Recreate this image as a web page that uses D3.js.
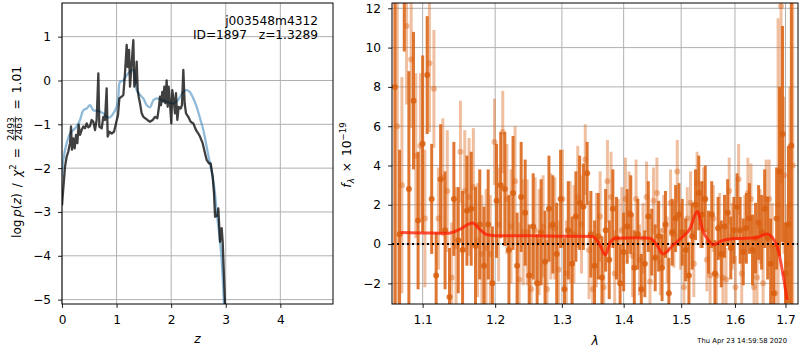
<!DOCTYPE html>
<html><head><meta charset="utf-8">
<script src="https://cdn.jsdelivr.net/npm/d3@7"></script>
<style>body{margin:0;background:#fff} svg text{font-family:"DejaVu Sans",sans-serif}</style>
</head><body><svg id="c" width="800" height="350"></svg>
<script>
// ---------- Left panel data: log p(z) and prior/template curve ----------
const zPz = [0,0.012,0.055,0.085,0.116,0.147,0.165,0.183,0.207,0.232,0.257,0.281,0.305,0.330,0.360,0.391,0.421,0.452,0.482,0.513,0.544,0.574,0.605,0.635,0.666,0.684,0.727,0.757,0.788,0.818,0.837,0.867,0.910,0.953,0.989,1.026,1.051,1.093,1.124,1.154,1.185,1.203,1.228,1.246,1.276,1.307,1.325,1.350,1.368,1.387,1.405,1.429,1.460,1.490,1.521,1.564,1.612,1.661,1.704,1.747,1.777,1.795,1.814,1.838,1.856,1.875,1.893,1.917,1.936,1.954,1.978,2.003,2.021,2.046,2.070,2.088,2.113,2.137,2.174,2.198,2.223,2.247,2.272,2.314,2.357,2.406,2.455,2.498,2.528,2.577,2.620,2.650,2.693,2.724,2.761,2.785,2.804,2.846,2.864,2.895,2.925,2.944,2.986,3.01];
const logPz = [-2.85,-2.65,-1.97,-1.74,-1.62,-1.43,-1.05,-1.58,-1.32,-1.55,-1.24,-1.43,-1.01,-1.24,-1.13,-1.05,-1.09,-0.98,-1.07,-1.04,-0.90,-0.94,-1.13,-0.90,0.16,-1.05,-1.09,-0.83,-0.90,-0.18,-1.28,-1.17,-1.21,-1.17,-0.98,-0.79,-0.41,-0.37,-0.33,0.16,0.81,0.31,0.70,-0.14,0.39,0.92,-0.14,0.0,0.43,-0.22,-0.37,-0.52,-0.75,-0.83,-0.86,-0.90,-0.94,-0.90,-0.83,-0.86,-0.60,-0.37,-0.56,-0.26,-0.48,-0.14,-0.52,0.0,-0.60,-0.14,-0.52,-0.98,-0.22,-0.45,-0.75,-0.29,-0.90,-0.60,-0.64,-0.56,0.24,-0.52,-0.75,-0.83,-0.94,-0.98,-1.13,-1.21,-1.28,-1.43,-1.66,-1.81,-1.89,-1.89,-2.20,-2.57,-3.11,-3.08,-2.92,-3.68,-3.37,-3.68,-5.08,-5.6];
const zTpl = [0,0.024,0.085,0.147,0.207,0.269,0.330,0.391,0.452,0.513,0.574,0.635,0.696,0.757,0.818,0.879,0.940,1.001,1.032,1.063,1.124,1.185,1.246,1.307,1.338,1.368,1.429,1.490,1.551,1.612,1.673,1.734,1.795,1.856,1.917,1.978,2.040,2.100,2.160,2.220,2.280,2.340,2.406,2.467,2.528,2.589,2.650,2.710,2.760,2.800,2.834,2.880,2.920,2.970,3.0];
const logTpl = [-2.2,-1.81,-1.43,-1.21,-1.13,-1.05,-0.90,-0.68,-0.64,-0.56,-0.68,-0.69,-0.71,-0.75,-0.83,-0.84,-0.75,-0.60,-0.37,-0.03,0.0,0.12,0.20,0.24,0.09,-0.22,-0.33,-0.41,-0.56,-0.61,-0.45,-0.41,-0.43,-0.46,-0.48,-0.51,-0.52,-0.48,-0.38,-0.26,-0.22,-0.26,-0.41,-0.60,-0.86,-1.13,-1.51,-1.89,-2.20,-2.55,-3.0,-3.5,-4.0,-5.1,-5.6];
const zTicks = [0,1,2,3,4];
const lpTicks = [-5,-4,-3,-2,-1,0,1];

// ---------- Right panel data: spectrum (two grism orientations) + model ----------
const lamA = [1.064,1.070,1.076,1.082,1.088,1.094,1.100,1.106,1.112,1.118,
1.124,1.130,1.136,1.142,1.148,1.154,1.160,1.166,1.172,1.178,
1.184,1.190,1.196,1.202,1.208,1.214,1.220,1.226,1.232,1.238,
1.244,1.250,1.256,1.262,1.268,1.274,1.280,1.286,1.292,1.298,
1.304,1.310,1.316,1.322,1.328,1.334,1.340,1.346,1.352,1.358,
1.364,1.370,1.376,1.382,1.388,1.394,1.400,1.406,1.412,1.418,
1.424,1.430,1.436,1.442,1.448,1.454,1.460,1.466,1.472,1.478,
1.484,1.490,1.496,1.502,1.508,1.514,1.520,1.526,1.532,1.538,
1.544,1.550,1.556,1.562,1.568,1.574,1.580,1.586,1.592,1.598,
1.604,1.610,1.616,1.622,1.628,1.634,1.640,1.646,1.652,1.658,
1.664,1.670,1.676,1.682,1.688,1.694,1.700,1.706,1.712];
const fluxA = [8.0,0.5,13.0,2.8,7.3,1.2,5.1,8.6,2.3,-1.6,
3.3,0.7,-2.7,2.3,0.2,-0.3,1.7,1.8,-0.1,1.0,
-1.1,1.0,-2.0,2.2,3.0,2.8,-0.3,2.6,-1.1,2.4,
1.6,-1.6,0.9,-2.0,0.6,-0.9,1.8,1.0,-0.5,2.3,
-2.3,0.7,-1.0,1.4,2.1,1.9,3.6,0.5,-1.1,0.4,
-1.7,0.7,-0.8,1.8,0.3,-2.0,-0.4,0.9,1.5,-1.2,
0.5,-2.3,-1.0,1.4,0.1,-0.7,0.4,-1.2,1.0,-2.5,
0.6,1.3,1.5,0.6,-0.3,-1.6,0.4,2.0,2.6,1.5,
2.3,0.1,1.5,-1.5,0.8,-0.5,0.9,1.6,-0.2,0.7,
1.9,0.7,-0.4,0.8,1.3,-0.3,0.3,1.1,0.6,1.8,
0.3,-1.0,-2.5,1.3,3.7,5.6,-1.5,1.0,5.0];
const errA = [30,4.3,3.2,6.0,3.5,3.5,4.5,3.0,2.8,2.2,
2.8,3.0,2.5,2.9,2.7,3.0,2.8,2.9,3.0,2.8,
3.0,2.8,2.9,2.9,2.7,2.9,2.8,2.9,2.7,2.8,
2.7,2.6,2.7,2.5,2.7,2.6,2.7,2.5,2.6,2.5,
2.6,2.5,2.4,2.3,2.4,2.2,1.6,2.2,2.3,2.2,
2.1,2.1,2.0,2.0,2.1,2.0,2.0,1.9,2.0,1.9,
1.8,1.8,1.7,1.8,1.7,1.7,1.8,1.7,1.7,1.8,
1.7,1.7,1.6,1.7,1.6,1.7,1.7,1.8,1.9,1.7,
1.7,1.6,1.7,1.7,1.6,1.7,1.6,1.7,1.6,1.7,
1.7,1.7,1.7,1.8,1.8,1.8,1.8,1.9,1.9,2.0,
2.1,2.3,2.5,2.6,4.3,5.5,2.6,4.0,30];
const lamB = [1.067,1.073,1.079,1.085,1.091,1.097,1.103,1.109,1.115,1.121,
1.127,1.133,1.139,1.145,1.151,1.157,1.163,1.169,1.175,1.181,
1.187,1.193,1.199,1.205,1.211,1.217,1.223,1.229,1.235,1.241,
1.247,1.253,1.259,1.265,1.271,1.277,1.283,1.289,1.295,1.301,
1.307,1.313,1.319,1.325,1.331,1.337,1.343,1.349,1.355,1.361,
1.367,1.373,1.379,1.385,1.391,1.397,1.403,1.409,1.415,1.421,
1.427,1.433,1.439,1.445,1.451,1.457,1.463,1.469,1.475,1.481,
1.487,1.493,1.499,1.505,1.511,1.517,1.523,1.529,1.535,1.541,
1.547,1.553,1.559,1.565,1.571,1.577,1.583,1.589,1.595,1.601,
1.607,1.613,1.619,1.625,1.631,1.637,1.643,1.649,1.655,1.661,
1.667,1.673,1.679,1.685,1.691,1.697,1.703,1.709,1.715];
const fluxB = [6.0,3.0,11.1,9.4,4.5,5.0,1.3,9.2,7.9,1.3,
3.4,2.7,-1.7,-0.1,4.7,2.7,2.4,2.9,0.2,-0.5,
-0.2,-0.5,5.2,1.0,5.7,2.3,0.9,3.2,-1.8,0.6,
0.6,-2.3,0.7,0.1,0.9,-2.3,0.9,0.8,-1.3,2.3,
-1.5,0.6,0.5,2.4,1.0,4.3,-0.3,-2.3,0.2,1.4,
-2.2,3.2,2.4,-1.5,0.2,0.7,2.3,1.6,-0.6,2.3,
-0.8,0.3,2.4,-1.9,2.2,2.6,-0.9,0.7,-0.3,2.1,
0.5,3.7,0.4,-2.2,1.3,2.1,-1.0,3.1,1.5,2.3,
-0.8,-1.6,1.3,-1.6,0.9,-1.7,-1.8,2.7,0.4,-2.2,
3.3,-1.5,0.8,2.6,2.3,-2.2,-1.7,0.9,-2.0,2.3,
2.3,-0.1,-2.5,2.0,12.1,3.5,-1.0,2.0,4.0];
const errB = [9,5.5,4.0,3.5,4.2,3.7,3.5,3.5,3.0,2.6,
3.0,3.1,2.8,3.0,2.6,3.1,3.0,3.0,2.9,3.0,
3.0,3.0,2.2,2.9,2.1,2.8,2.9,2.8,2.9,2.7,
2.7,2.6,2.7,2.7,2.6,2.5,2.7,2.6,2.5,2.5,
2.7,2.6,2.5,2.6,2.5,1.8,2.5,2.4,2.4,2.3,
2.2,2.1,2.3,2.2,2.1,2.2,2.1,2.1,2.1,2.0,
1.8,1.8,1.8,1.8,1.7,1.8,1.7,1.8,1.7,1.7,
1.7,1.6,1.7,1.7,1.6,1.6,1.7,1.6,1.7,1.6,
1.6,1.7,1.7,1.6,1.7,1.7,1.6,1.7,1.7,1.6,
1.8,1.8,1.7,1.8,1.8,1.8,1.8,1.9,1.9,2.0,
2.0,2.2,2.4,9.5,9.0,4.0,3.0,6.0,30];
const lamModel = [1.0714,1.10,1.1348,1.150,1.1679,1.178,1.189,1.20,1.25,1.30,1.3484,1.360,1.3695,1.378,1.3861,1.42,1.4454,1.458,1.468,1.4858,1.50,1.5163,1.5291,1.5401,1.551,1.5605,1.5718,1.60,1.64,1.6629,1.6829,1.695,1.7031];
const fluxModel = [0.59,0.57,0.55,0.75,1.07,0.75,0.47,0.43,0.42,0.40,0.39,0.0,-0.55,0.1,0.30,0.32,0.30,-0.1,-0.5,-0.04,0.3,0.81,1.66,0.64,0.15,-0.04,0.13,0.28,0.32,0.51,-0.12,-1.56,-2.84];
const lamTicks = [1.1,1.2,1.3,1.4,1.5,1.6,1.7];
const fTicks = [-2,0,2,4,6,8,10,12];

// ---------- drawing ----------
const svg = d3.select("#c");
const FS = 12.2;
const fmt = v => (v < 0 ? "\u2212" : "") + Math.abs(v);
const GRID = "#b0b0b0";

function panel(box, xs, ys, xt, yt, xfmt, yfmt, id) {
  const g = svg.append("g");
  g.append("defs").append("clipPath").attr("id", id)
    .append("rect").attr("x", box.x0).attr("y", box.y0)
    .attr("width", box.x1 - box.x0).attr("height", box.y1 - box.y0);
  g.append("g").selectAll("line").data(xt).join("line")
    .attr("x1", d => xs(d)).attr("x2", d => xs(d)).attr("y1", box.y0).attr("y2", box.y1)
    .attr("stroke", GRID).attr("stroke-width", 1);
  g.append("g").selectAll("line").data(yt).join("line")
    .attr("y1", d => ys(d)).attr("y2", d => ys(d)).attr("x1", box.x0).attr("x2", box.x1)
    .attr("stroke", GRID).attr("stroke-width", 1);
  const ax = g.append("g").attr("transform", `translate(0,${box.y1})`)
    .call(d3.axisBottom(xs).tickValues(xt).tickFormat(xfmt).tickSize(3.9).tickPadding(7.5));
  const ay = g.append("g").attr("transform", `translate(${box.x0},0)`)
    .call(d3.axisLeft(ys).tickValues(yt).tickFormat(yfmt).tickSize(3.9).tickPadding(7));
  [ax, ay].forEach(a => {
    a.select(".domain").remove();
    a.selectAll("text").attr("font-size", FS).attr("fill", "#000").attr("font-family", "DejaVu Sans");
    a.selectAll("line").attr("stroke", "#000").attr("stroke-width", 0.9);
  });
  const plot = g.append("g").attr("clip-path", `url(#${id})`);
  g.append("rect").attr("class", "frame").attr("x", box.x0).attr("y", box.y0)
    .attr("width", box.x1 - box.x0).attr("height", box.y1 - box.y0)
    .attr("fill", "none").attr("stroke", "#000").attr("stroke-width", 1);
  return {g, plot};
}

// Left panel
const LB = {x0: 62, x1: 333, y0: 3, y1: 304};
const xz = d3.scaleLinear().domain([0, 4.965]).range([LB.x0, LB.x1]);
const yz = d3.scaleLinear().domain([-5.1, 1.768]).range([LB.y1, LB.y0]);
const left = panel(LB, xz, yz, zTicks, lpTicks, fmt, fmt, "clipL");
left.plot.append("path")
  .datum(zTpl.map((z, i) => [z, logTpl[i]]))
  .attr("d", d3.line().x(d => xz(d[0])).y(d => yz(d[1])).curve(d3.curveCatmullRom))
  .attr("fill", "none").attr("stroke", "#1f77b4").attr("stroke-opacity", 0.5).attr("stroke-width", 2.3);
left.plot.append("path")
  .datum(zPz.map((z, i) => [z, logPz[i]]))
  .attr("d", d3.line().x(d => xz(d[0])).y(d => yz(d[1])))
  .attr("fill", "none").attr("stroke", "#000").attr("stroke-opacity", 0.75)
  .attr("stroke-width", 2.3).attr("stroke-linejoin", "round");

left.g.append("text").attr("x", 318).attr("y", 24.5).attr("text-anchor", "end")
  .attr("font-size", FS).text("j003548m4312");
left.g.append("text").attr("x", 318).attr("y", 38.5).attr("text-anchor", "end")
  .attr("font-size", FS).attr("xml:space", "preserve").text("ID=1897   z=1.3289");
left.g.append("text").attr("x", (LB.x0 + LB.x1) / 2).attr("y", 343).attr("text-anchor", "middle")
  .attr("font-size", FS).attr("font-style", "italic").text("z");

// left y label with fraction
(function () {
  const gl = svg.append("g").attr("transform", "translate(20.5,152) rotate(-90)");
  const t1 = gl.append("text").attr("font-size", FS).attr("x", 0).attr("y", 0);
  t1.append("tspan").text("log\u2009");
  t1.append("tspan").attr("font-style", "italic").text("p");
  t1.append("tspan").text("(");
  t1.append("tspan").attr("font-style", "italic").text("z");
  t1.append("tspan").text(")\u2002/\u2002");
  t1.append("tspan").attr("font-style", "italic").text("\u03c7");
  t1.append("tspan").attr("font-size", FS * 0.7).attr("dy", -5).text("2");
  t1.append("tspan").attr("dy", 5).text("\u2002=\u2002");
  const w1 = t1.node().getComputedTextLength();
  const fs2 = 9.2;
  const num = gl.append("text").attr("font-size", fs2).attr("y", -6.8).attr("text-anchor", "middle").text("2493");
  const den = gl.append("text").attr("font-size", fs2).attr("y", 1.8).attr("text-anchor", "middle").text("2463");
  const fw = Math.max(num.node().getComputedTextLength(), den.node().getComputedTextLength()) + 3;
  const t3 = gl.append("text").attr("font-size", FS).attr("y", 0).text("\u2002=\u20021.01");
  const w3 = t3.node().getComputedTextLength();
  const total = w1 + fw + w3;
  const s = -total / 2;
  t1.attr("x", s);
  num.attr("x", s + w1 + fw / 2);
  den.attr("x", s + w1 + fw / 2);
  gl.append("line").attr("x1", s + w1 + 1).attr("x2", s + w1 + fw - 1)
    .attr("y1", -5.2).attr("y2", -5.2).attr("stroke", "#000").attr("stroke-width", 0.7);
  t3.attr("x", s + w1 + fw);
})();

// Right panel
const RB = {x0: 392, x1: 798, y0: 3, y1: 304};
const xl = d3.scaleLog().domain([1.0603, 1.7257]).range([RB.x0, RB.x1]);
const yf = d3.scaleLinear().domain([-3.05, 12.27]).range([RB.y1, RB.y0]);
const right = panel(RB, xl, yf, lamTicks, fTicks, d => d.toFixed(1), fmt, "clipR");
const COL = "#d95f0e";
function spectrum(lam, flux, err, op) {
  const data = lam.map((l, i) => ({l, f: flux[i], e: err[i]}));
  const gg = right.plot.append("g");
  gg.selectAll("line").data(data).join("line")
    .attr("x1", d => xl(d.l)).attr("x2", d => xl(d.l))
    .attr("y1", d => yf(d.f - d.e)).attr("y2", d => yf(d.f + d.e))
    .attr("stroke", COL).attr("stroke-opacity", op).attr("stroke-width", 3);
  gg.selectAll("circle").data(data).join("circle")
    .attr("cx", d => xl(d.l)).attr("cy", d => yf(d.f)).attr("r", 3)
    .attr("fill", COL).attr("fill-opacity", op);
}
spectrum(lamB, fluxB, errB, 0.4);
spectrum(lamA, fluxA, errA, 0.85);
right.plot.append("line").attr("x1", RB.x0).attr("x2", RB.x1).attr("y1", yf(0)).attr("y2", yf(0))
  .attr("stroke", "#000").attr("stroke-width", 2).attr("stroke-dasharray", "2,3");
right.plot.append("path")
  .datum(lamModel.map((l, i) => [l, fluxModel[i]]))
  .attr("d", d3.line().x(d => xl(d[0])).y(d => yf(d[1])).curve(d3.curveMonotoneX))
  .attr("fill", "none").attr("stroke", "#ff1a00").attr("stroke-opacity", 0.75).attr("stroke-width", 3);

right.g.append("text").attr("x", (RB.x0 + RB.x1) / 2).attr("y", 345).attr("text-anchor", "middle")
  .attr("font-size", FS).attr("font-style", "italic").text("\u03bb");
(function () {
  const gr = svg.append("g").attr("transform", "translate(351,155) rotate(-90)");
  const t = gr.append("text").attr("font-size", FS).attr("text-anchor", "middle");
  t.append("tspan").attr("font-style", "italic").text("f");
  t.append("tspan").attr("font-style", "italic").attr("font-size", FS * 0.7).attr("dy", 2.7).text("\u03bb");
  t.append("tspan").attr("dy", -2.7).text("\u2002\u00d7\u200210");
  t.append("tspan").attr("font-size", FS * 0.7).attr("dy", -5).text("\u221219");
})();
svg.append("text").attr("x", 787).attr("y", 343).attr("text-anchor", "end")
  .attr("font-size", 6.8).text("Thu Apr 23 14:59:58 2020");
</script></body></html>
